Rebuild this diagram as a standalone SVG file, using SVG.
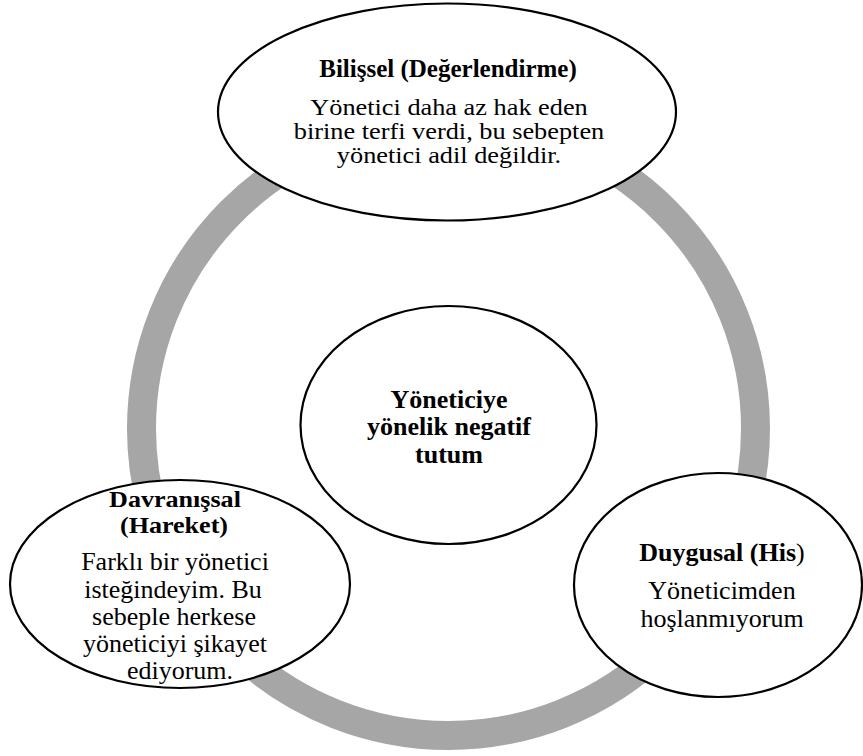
<svg xmlns="http://www.w3.org/2000/svg" width="863" height="756" viewBox="0 0 863 756">
<style>
.node{fill:#ffffff;stroke:#000000;stroke-width:2.2}
.ring{fill:none;stroke:#a6a6a6;stroke-width:29}
text{font-family:"Liberation Serif","Times New Roman",serif;fill:#000000;text-anchor:middle}
.h{font-weight:bold;font-size:26px}
.b{font-size:26px}
.bs{font-size:22.5px}
.hs{font-weight:bold;font-size:23.5px}
</style>
<rect width="863" height="756" fill="#ffffff"/>
<g id="connectors">
<circle class="ring" cx="448.5" cy="428.5" r="307"/>
</g>
<g id="node-bilissel">
<ellipse class="node" cx="447" cy="112" rx="229" ry="108.5"/>
<text class="h" x="448" y="77" style="font-size:25px">Bilişsel (Değerlendirme)</text>
<text class="bs" transform="translate(449 115) scale(1.17 1)" x="0" y="0">Yönetici daha az hak eden</text>
<text class="bs" transform="translate(449 139) scale(1.17 1)" x="0" y="0">birine terfi verdi, bu sebepten</text>
<text class="bs" transform="translate(449 163) scale(1.17 1)" x="0" y="0">yönetici adil değildir.</text>
</g>
<g id="node-center">
<ellipse class="node" cx="448.5" cy="425" rx="148" ry="119"/>
<text class="h" x="449" y="408">Yöneticiye</text>
<text class="h" x="449" y="435">yönelik negatif</text>
<text class="h" x="449" y="463">tutum</text>
</g>
<g id="node-davranissal">
<ellipse class="node" cx="180" cy="584" rx="170" ry="104"/>
<text class="hs" transform="translate(175 507) scale(1.11 1)" x="0" y="0">Davranışsal</text>
<text class="hs" transform="translate(174 533) scale(1.11 1)" x="0" y="0">(Hareket)</text>
<text class="b" x="175" y="570">Farklı bir yönetici</text>
<text class="b" x="173" y="598">isteğindeyim. Bu</text>
<text class="b" x="174" y="625">sebeple herkese</text>
<text class="b" x="175" y="652">yöneticiyi şikayet</text>
<text class="b" x="180" y="679">ediyorum.</text>
</g>
<g id="node-duygusal">
<ellipse class="node" cx="718" cy="585" rx="144" ry="112"/>
<text class="h" x="722" y="561">Duygusal (His<tspan style="font-weight:normal">)</tspan></text>
<text class="b" x="722" y="599">Yöneticimden</text>
<text class="b" x="722" y="627">hoşlanmıyorum</text>
</g>
</svg>
